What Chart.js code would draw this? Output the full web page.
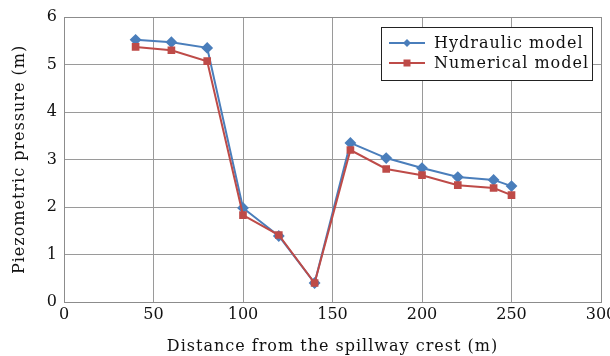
<!DOCTYPE html>
<html>
<head>
<meta charset="utf-8">
<script src="https://cdn.jsdelivr.net/npm/chart.js@4"></script>
<style>
  body { margin: 0; background: #fff; }
  #wrap { width: 610px; height: 356px; }
</style>
</head>
<body>
<div id="wrap"><canvas id="line-chart" width="610" height="356"></canvas></div>
<script>
// distance from the spillway crest (m)
const distances = [40, 60, 80, 100, 120, 140, 160, 180, 200, 220, 240, 250];
const hydraulic = [5.52, 5.47, 5.35, 1.98, 1.39, 0.40, 3.35, 3.03, 2.82, 2.63, 2.57, 2.44];
const numerical = [5.37, 5.30, 5.07, 1.83, 1.41, 0.40, 3.20, 2.80, 2.67, 2.46, 2.40, 2.25];
const seriesNames = ["Hydraulic model", "Numerical model"];

const FONT = "'DejaVu Serif', 'Liberation Serif', serif";

const toPoints = (ys) => ys.map((y, i) => ({ x: distances[i], y: y }));

// titles in the original are set a bit looser, so space the letters out
function spacedTitle(scale) {
  if (scale._spaced) return;
  const orig = scale.drawTitle;
  scale.drawTitle = function () {
    this.ctx.save();
    this.ctx.letterSpacing = '1px';
    orig.call(this);
    this.ctx.restore();
  };
  scale._spaced = true;
}

// legend drawn inside the plot area, top right, with a box round it
const boxLegend = {
  id: 'boxLegend',
  afterDraw(chart) {
    const ctx = chart.ctx;
    const area = chart.chartArea;
    const x0 = area.right - 220, y0 = area.top + 10, w = 211, h = 53;
    ctx.save();
    ctx.fillStyle = '#fff';
    ctx.fillRect(x0, y0, w, h);
    ctx.strokeStyle = '#222';
    ctx.lineWidth = 1;
    ctx.strokeRect(x0 + 0.5, y0 + 0.5, w, h);
    ctx.font = '16px ' + FONT;
    ctx.letterSpacing = '1px';
    ctx.textBaseline = 'middle';
    chart.data.datasets.forEach((ds, i) => {
      const cy = y0 + 16 + i * 20;
      ctx.strokeStyle = ds.borderColor;
      ctx.lineWidth = 2;
      ctx.beginPath();
      ctx.moveTo(x0 + 8, cy);
      ctx.lineTo(x0 + 44, cy);
      ctx.stroke();
      ctx.fillStyle = ds.borderColor;
      if (ds.pointStyle === 'rectRot') {
        ctx.beginPath();
        ctx.moveTo(x0 + 26, cy - 4);
        ctx.lineTo(x0 + 30, cy);
        ctx.lineTo(x0 + 26, cy + 4);
        ctx.lineTo(x0 + 22, cy);
        ctx.closePath();
        ctx.fill();
      } else {
        ctx.fillRect(x0 + 22.5, cy - 3.5, 7, 7);
      }
      ctx.fillStyle = '#111';
      ctx.fillText(ds.label, x0 + 53, cy + 1);
    });
    ctx.restore();
  }
};

// full frame round the plot area
const frame = {
  id: 'frame',
  afterDatasetsDraw(chart) {
    const a = chart.chartArea;
    const ctx = chart.ctx;
    ctx.save();
    ctx.strokeStyle = '#8c8c8c';
    ctx.lineWidth = 1;
    ctx.strokeRect(Math.round(a.left) + 0.5, Math.round(a.top) + 0.5, Math.round(a.right - a.left), Math.round(a.bottom - a.top));
    ctx.restore();
  }
};

new Chart(document.getElementById("line-chart"), {
  type: 'line',
  data: {
    datasets: [
      {
        label: seriesNames[0],
        data: toPoints(hydraulic),
        borderColor: "#4a7ebb",
        backgroundColor: "#4a7ebb",
        borderWidth: 2,
        pointStyle: 'rectRot',
        pointRadius: 4.5,
        pointHoverRadius: 4.5,
        tension: 0,
        order: 2
      },
      {
        label: seriesNames[1],
        data: toPoints(numerical),
        borderColor: "#be4b48",
        backgroundColor: "#be4b48",
        borderWidth: 2,
        pointStyle: 'rect',
        pointRadius: 4,
        pointHoverRadius: 4,
        tension: 0,
        order: 1
      }
    ]
  },
  options: {
    responsive: false,
    animation: false,
    events: [],
    layout: { padding: { top: 17, right: 9, left: 0, bottom: 0 } },
    plugins: {
      legend: { display: false },
      tooltip: { enabled: false }
    },
    scales: {
      x: {
        type: 'linear',
        min: 0,
        max: 300,
        ticks: { stepSize: 50, color: '#111', font: { family: FONT, size: 16 }, padding: 3 },
        grid: { color: '#9a9a9a', lineWidth: 1, drawTicks: false },
        border: { display: false },
        title: { display: true, text: 'Distance from the spillway crest (m)', color: '#111', font: { family: FONT, size: 16 }, padding: { top: 6, bottom: 0 } },
        afterFit(scale) {
          scale.height = 54;
          scale.paddingRight = 0;  // let "300" run past the edge like the original
          spacedTitle(scale);
        }
      },
      y: {
        min: 0,
        max: 6,
        ticks: { stepSize: 1, color: '#111', font: { family: FONT, size: 16 }, padding: 7 },
        grid: { color: '#9a9a9a', lineWidth: 1, drawTicks: false },
        border: { display: false },
        title: { display: true, text: 'Piezometric pressure (m)', color: '#111', font: { family: FONT, size: 16 }, padding: { top: 10, bottom: 10 } },
        afterFit(scale) {
          scale.width = 64;
          spacedTitle(scale);
        }
      }
    }
  },
  plugins: [frame, boxLegend]
});
</script>
</body>
</html>
